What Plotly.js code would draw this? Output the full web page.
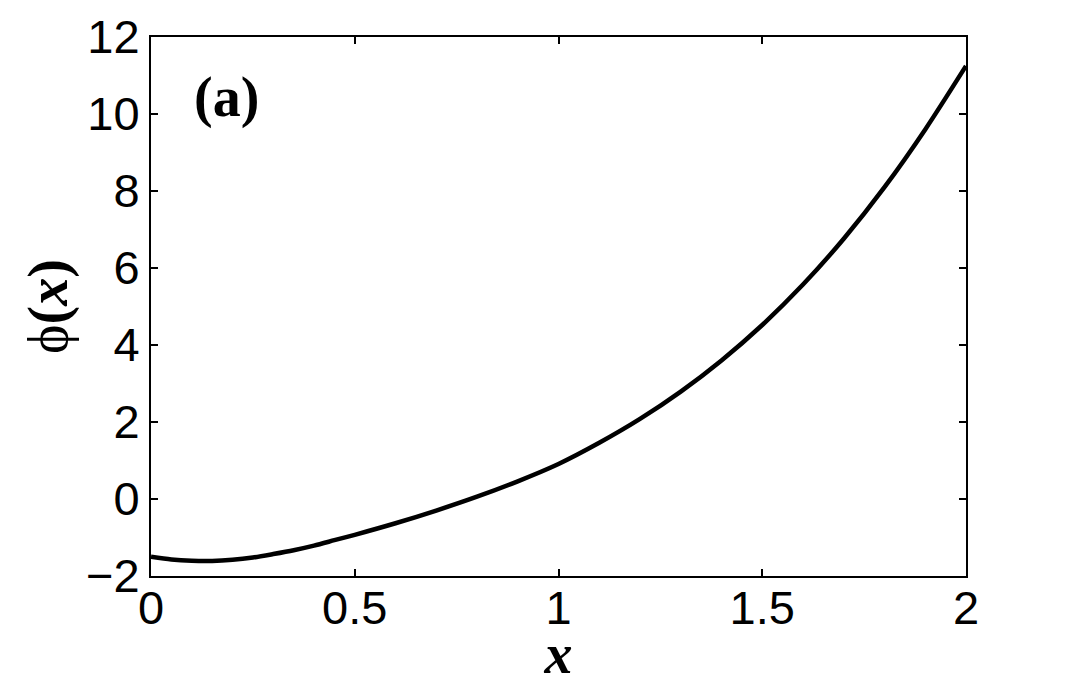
<!DOCTYPE html>
<html>
<head>
<meta charset="utf-8">
<script src="https://cdn.plot.ly/plotly-3.0.1.min.js"></script>
<style>html,body{margin:0;padding:0;background:#fff;}#chart{width:1067px;height:685px;}</style>
</head>
<body>
<div id="chart"></div>
<script>
var xValues = [0, 0.05, 0.1, 0.15, 0.2, 0.25, 0.3, 0.35, 0.4, 0.45, 0.5, 0.6, 0.7, 0.8, 0.9, 1.0, 1.1, 1.2, 1.3, 1.4, 1.5, 1.6, 1.7, 1.8, 1.9, 2.0];
var phiValues = [-1.50, -1.57, -1.605, -1.61, -1.58, -1.52, -1.43, -1.33, -1.21, -1.07, -0.93, -0.63, -0.30, 0.06, 0.46, 0.91, 1.46, 2.08, 2.79, 3.60, 4.52, 5.57, 6.76, 8.10, 9.60, 11.25];
var xTickVals = [0, 0.5, 1, 1.5, 2];
var xTickText = ["0", "0.5", "1", "1.5", "2"];
var yTickVals = [-2, 0, 2, 4, 6, 8, 10, 12];
var yTickText = ["\u22122", "0", "2", "4", "6", "8", "10", "12"];

var trace = {
  x: xValues, y: phiValues, type: 'scatter', mode: 'lines',
  line: {color: '#000', width: 4.5, shape: 'spline', smoothing: 0.8},
  hoverinfo: 'skip'
};

var tickFont = {family: 'Liberation Sans, Arial, Helvetica, sans-serif', size: 47, color: '#000'};
var layout = {
  width: 1067, height: 685,
  margin: {l: 151, r: 101, t: 37, b: 109, pad: 0},
  paper_bgcolor: '#fff', plot_bgcolor: '#fff',
  showlegend: false,
  xaxis: {
    range: [0, 2], tickvals: xTickVals, ticktext: xTickText,
    ticks: 'inside', ticklen: 7, tickwidth: 2, tickcolor: '#000',
    showline: true, linecolor: '#000', linewidth: 2, mirror: 'ticks',
    showgrid: false, zeroline: false, tickfont: tickFont,
    ticklabelstandoff: -10,
    title: {text: '<b><i>x</i></b>', font: {family: 'Liberation Serif, Times New Roman, serif', size: 56, color: '#000'}, standoff: 10}
  },
  yaxis: {
    range: [-2, 12], tickvals: yTickVals, ticktext: yTickText,
    ticks: 'inside', ticklen: 7, tickwidth: 2, tickcolor: '#000',
    showline: true, linecolor: '#000', linewidth: 2, mirror: 'ticks',
    showgrid: false, zeroline: false, tickfont: tickFont,
    ticklabelstandoff: 0,
    title: {text: '\u03d5<b>(<i>x</i>)</b>', font: {family: 'Liberation Serif, DejaVu Serif, Times New Roman, serif', size: 56, color: '#000'}, standoff: 0}
  },
  annotations: [{
    xref: 'paper', yref: 'paper', x: 0.093, y: 0.887,
    xanchor: 'center', yanchor: 'middle', showarrow: false,
    text: '<b>(a)</b>',
    font: {family: 'Liberation Serif, Times New Roman, serif', size: 56, color: '#000'}
  }]
};
Plotly.newPlot('chart', [trace], layout, {displayModeBar: false, staticPlot: true});
</script>
</body>
</html>
